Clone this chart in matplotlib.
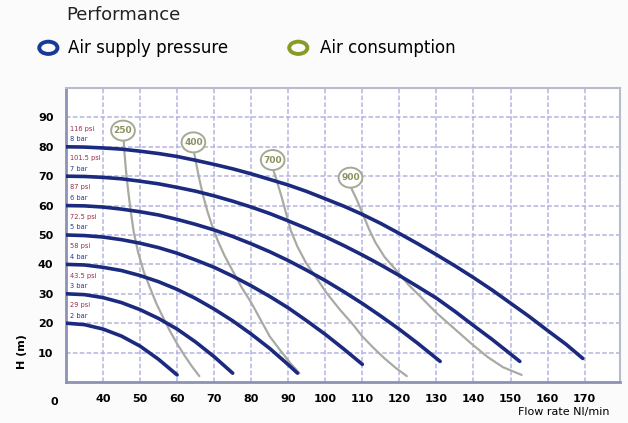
import matplotlib.pyplot as plt
from matplotlib.patches import Ellipse, Circle

# air supply pressure curves (bar -> flow, head)
bars = [8, 7, 6, 5, 4, 3, 2]
psi = ["116 psi", "101.5 psi", "87 psi", "72.5 psi", "58 psi", "43.5 psi", "29 psi"]
press_flow = [
    [30, 35, 40, 45, 50, 55, 60, 65, 70, 75, 80, 85, 90, 95, 100, 105, 110, 115,
     120, 125, 130, 135, 140, 145, 150, 155, 160, 165, 169.5],
    [30, 35, 40, 45, 50, 55, 60, 65, 70, 75, 80, 85, 90, 95, 100, 105, 110, 115,
     120, 125, 130, 135, 140, 145, 150, 152.5],
    [30, 35, 40, 45, 50, 55, 60, 65, 70, 75, 80, 85, 90, 95, 100, 105, 110, 115,
     120, 125, 131],
    [30, 35, 40, 45, 50, 55, 60, 65, 70, 75, 80, 85, 90, 95, 100, 105, 110],
    [30, 35, 40, 45, 50, 55, 60, 65, 70, 75, 80, 85, 90, 92.5],
    [30, 35, 40, 45, 50, 55, 60, 65, 70, 75],
    [30, 35, 40, 45, 50, 55, 60],
]
press_head = [
    [80, 79.9, 79.6, 79.2, 78.5, 77.7, 76.7, 75.4, 74, 72.5, 70.8, 68.9, 67, 64.8,
     62.3, 59.8, 57, 53.9, 50.5, 47, 43.3, 39.5, 35.5, 31.3, 26.8, 22.3, 17.5, 12.8, 8],
    [70, 69.9, 69.6, 69.1, 68.3, 67.4, 66.2, 64.9, 63.3, 61.5, 59.5, 57.3, 54.8,
     52.2, 49.4, 46.4, 43.2, 39.8, 36.2, 32.4, 28.5, 24, 19.2, 14.5, 9.5, 7],
    [60, 59.9, 59.5, 58.8, 57.9, 56.8, 55.3, 53.6, 51.7, 49.5, 47, 44.3, 41.3, 38,
     34.5, 30.7, 26.7, 22.4, 17.9, 13.1, 7],
    [50, 49.8, 49.3, 48.4, 47.2, 45.7, 43.8, 41.5, 39, 36, 32.7, 29.1, 25.2, 20.8,
     16.2, 11.2, 6],
    [40, 39.8, 39, 37.9, 36.2, 34.1, 31.5, 28.4, 24.8, 20.8, 16.3, 11.4, 5.9, 3],
    [30, 29.7, 28.7, 27, 24.6, 21.6, 18, 13.6, 8.6, 3],
    [20, 19.5, 18, 15.6, 12.2, 7.7, 2.4],
]

# air consumption curves (Nl/min)
cons = ["250", "400", "700", "900"]
cons_flow = [
    [45.6, 45.8, 46.2, 46.8, 47.5, 48.3, 49.5, 51, 52.7, 54.3, 56, 58, 60, 62, 64, 66],
    [64.6, 65.2, 66, 67, 68.2, 69.5, 71, 72.8, 75, 77.5, 80, 82.4, 85, 88, 90.5, 93],
    [86, 87, 88.2, 89.5, 90.7, 92.5, 94.8, 97.8, 100.5, 104, 107.5, 110, 113, 116,
     119, 122],
    [107, 108.5, 110, 111.8, 113.5, 116, 119.5, 122.5, 125.7, 130, 134.6, 139,
     143.8, 148, 153],
]
cons_head = [
    [82, 78, 72, 65, 58, 51, 44, 37.5, 32, 27, 22.5, 17.5, 13, 9, 5.3, 2],
    [78, 74, 69, 63.5, 58, 53, 48, 43, 37.8, 32, 27, 21.5, 15.5, 10.5, 6.5, 3],
    [72, 68, 63, 57, 51.5, 46, 40.5, 35, 30, 24.5, 19.5, 15.5, 11.6, 8, 4.8, 2],
    [66, 62, 57.5, 52, 47.5, 42.5, 37.5, 33, 29, 23.5, 18.4, 13.5, 8.5, 5, 2.4],
]

xticks = [40, 50, 60, 70, 80, 90, 100, 110, 120, 130, 140, 150, 160, 170]
yticks = [10, 20, 30, 40, 50, 60, 70, 80, 90]

blue = "#1b2a7e"
grey = "#a9aba3"
grid_c = "#b4b4e0"

fig = plt.figure(figsize=(6.28, 4.23), dpi=100)
fig.patch.set_facecolor("#fbfbfb")
ax = fig.add_axes([0.105, 0.097, 0.882, 0.695])

for fx, hy in zip(cons_flow, cons_head):
    ax.plot(fx, hy, color=grey, lw=1.6, zorder=3, solid_capstyle="round",
            solid_joinstyle="round")

for fx, hy in zip(press_flow, press_head):
    ax.plot(fx, hy, color=blue, lw=2.6, zorder=4, solid_capstyle="round",
            solid_joinstyle="round")

# bubbles on air consumption lines
for lab, fx, hy in zip(cons, cons_flow, cons_head):
    ax.add_patch(Ellipse((fx[0] - 0.2, hy[0] + 3.5), 6.4, 6.8, facecolor="white",
                         edgecolor="#a4aa92", lw=1.4, zorder=5))
    ax.text(fx[0] - 0.2, hy[0] + 3.5, lab, ha="center", va="center", fontsize=6.5,
            color="#8a9260", fontweight="bold", zorder=6)

# pressure labels at left
for b, p, hy in zip(bars, psi, press_head):
    ax.text(31, hy[0] + 6.2, p, fontsize=4.8, color="#9a2a4a", va="center", zorder=5)
    ax.text(31, hy[0] + 2.6, f"{b} bar", fontsize=4.8, color="#2a3a90", va="center", zorder=5)

ax.set_xlim(30, 179.5)
ax.set_ylim(0, 100)
ax.set_xticks(xticks)
ax.set_yticks(yticks)
ax.set_xticklabels([str(t) for t in xticks], fontsize=8, fontweight="bold")
ax.set_yticklabels([str(t) for t in yticks], fontsize=8, fontweight="bold")
ax.tick_params(length=0, pad=9)
ax.grid(True, color=grid_c, ls=(0, (3, 1.5)), lw=1.1)
ax.set_axisbelow(True)
for s in ["left", "bottom"]:
    ax.spines[s].set_color("#8d92b4")
    ax.spines[s].set_linewidth(2)
for s in ["top", "right"]:
    ax.spines[s].set_color("#b8bbcc")
    ax.spines[s].set_linewidth(1.5)

ax.text(-0.015, -0.05, "0", transform=ax.transAxes, ha="right", va="top",
        fontsize=8, fontweight="bold")
fig.text(0.035, 0.17, "H (m)", rotation=90, ha="center", va="center",
         fontsize=8, fontweight="bold")
fig.text(0.97, 0.025, "Flow rate Nl/min", ha="right", va="center", fontsize=8)

# header and legend
fig.text(0.106, 0.965, "Performance", fontsize=13, va="center", color="#222222")
fig.patches.append(Circle((0.077, 0.887), 0.0145, transform=fig.transFigure,
                          facecolor="none", edgecolor="#173a96", lw=2.8))
fig.text(0.108, 0.887, "Air supply pressure", fontsize=12, va="center")
fig.patches.append(Circle((0.475, 0.887), 0.0145, transform=fig.transFigure,
                          facecolor="none", edgecolor="#8a9a26", lw=2.8))
fig.text(0.51, 0.887, "Air consumption", fontsize=12, va="center")

fig.savefig("out.png", dpi=100, facecolor=fig.get_facecolor())
